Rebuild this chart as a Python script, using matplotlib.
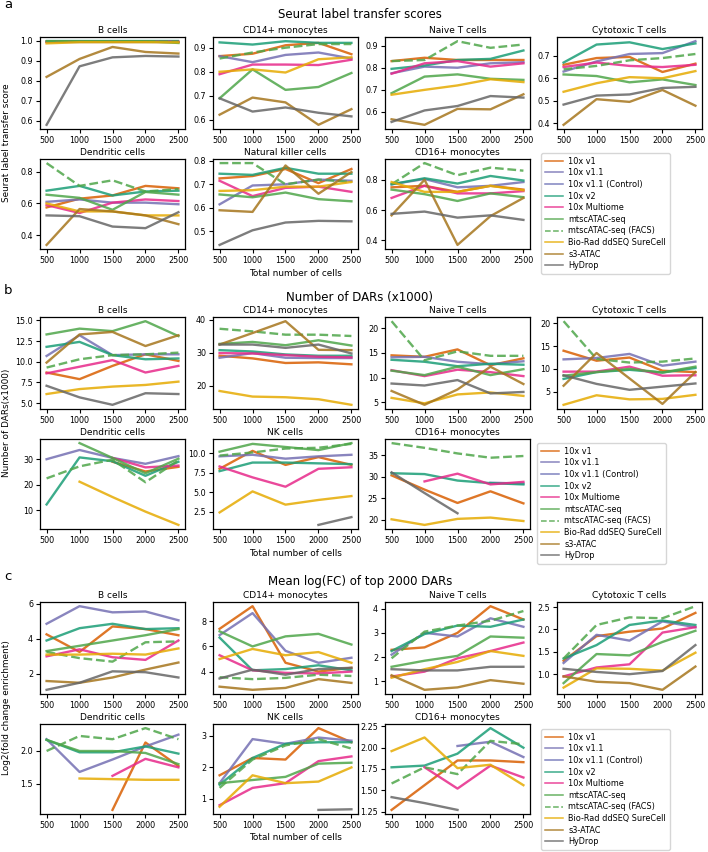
import numpy as np
import matplotlib.pyplot as plt

nan = np.nan
cells = [500, 1000, 1500, 2000, 2500]

methods = ["10x v1", "10x v1.1", "10x v1.1 (Control)", "10x v2", "10x Multiome",
           "mtscATAC-seq", "mtscATAC-seq (FACS)", "Bio-Rad ddSEQ SureCell",
           "s3-ATAC", "HyDrop"]
colors = ["#d95f02", "#7570b3", "#6a6fb5", "#1b9e77", "#e7298a",
          "#4fa64a", "#4fa64a", "#e6ab02", "#a6761d", "#666666"]
styles = ["-", "-", "-", "-", "-", "-", "--", "-", "-", "-"]

titles_a = ["B cells", "CD14+ monocytes", "Naive T cells", "Cytotoxic T cells",
            "Dendritic cells", "Natural killer cells", "CD16+ monocytes"]
titles_bc = ["B cells", "CD14+ monocytes", "Naive T cells", "Cytotoxic T cells",
             "Dendritic cells", "NK cells", "CD16+ monocytes"]

# ---- a: Seurat label transfer scores (rows follow `methods`) ----
seurat_bcell = [
    [0.995, 0.996, 0.996, 0.996, 0.995],
    [0.997, 0.997, 0.997, 0.997, 0.997],
    [nan] * 5,
    [0.998, 0.998, 0.998, 0.998, 0.998],
    [0.996, 0.997, 0.997, 0.997, 0.996],
    [0.999, 0.999, 0.999, 0.999, 0.990],
    [0.998, 0.998, 0.998, 0.998, 0.997],
    [0.988, 0.994, 0.994, 0.994, 0.993],
    [0.82, 0.91, 0.97, 0.945, 0.937],
    [0.58, 0.873, 0.918, 0.925, 0.922]]
seurat_cd14 = [
    [0.865, 0.875, 0.91, 0.92, 0.873],
    [0.865, 0.84, 0.87, 0.88, 0.855],
    [nan] * 5,
    [0.922, 0.913, 0.927, 0.92, 0.92],
    [0.79, 0.83, 0.83, 0.828, 0.85],
    [0.69, 0.81, 0.725, 0.737, 0.795],
    [0.855, 0.88, 0.9, 0.915, 0.915],
    [0.80, 0.81, 0.797, 0.852, 0.86],
    [0.622, 0.693, 0.673, 0.58, 0.645],
    [0.69, 0.635, 0.652, 0.63, 0.615]]
seurat_naive = [
    [0.83, 0.845, 0.835, 0.835, 0.835],
    [0.775, 0.805, 0.80, 0.82, 0.825],
    [nan] * 5,
    [0.795, 0.81, 0.835, 0.84, 0.878],
    [0.773, 0.82, 0.83, 0.805, 0.82],
    [0.685, 0.76, 0.77, 0.75, 0.745],
    [0.83, 0.835, 0.92, 0.89, 0.905],
    [0.678, 0.70, 0.72, 0.748, 0.735],
    [0.567, 0.542, 0.614, 0.612, 0.68],
    [0.555, 0.607, 0.627, 0.672, 0.665]]
seurat_cyto = [
    [0.66, 0.69, 0.695, 0.628, 0.665],
    [0.63, 0.675, 0.708, 0.712, 0.765],
    [nan] * 5,
    [0.67, 0.75, 0.76, 0.73, 0.755],
    [0.65, 0.67, 0.655, 0.65, 0.66],
    [0.617, 0.61, 0.582, 0.595, 0.57],
    [0.64, 0.655, 0.68, 0.69, 0.708],
    [0.54, 0.578, 0.605, 0.60, 0.632],
    [0.393, 0.507, 0.495, 0.548, 0.478],
    [0.483, 0.523, 0.528, 0.557, 0.562]]
seurat_dc = [
    [0.575, 0.63, 0.65, 0.71, 0.695],
    [0.61, 0.625, 0.605, 0.605, 0.595],
    [nan] * 5,
    [0.68, 0.71, 0.65, 0.675, 0.68],
    [0.59, 0.54, 0.605, 0.625, 0.615],
    [0.655, 0.635, 0.56, 0.672, 0.655],
    [0.853, 0.71, 0.745, 0.675, 0.69],
    [0.60, 0.55, 0.55, 0.525, 0.525],
    [0.34, 0.565, 0.55, 0.525, 0.47],
    [0.525, 0.52, 0.455, 0.445, 0.545]]
seurat_nk = [
    [0.725, 0.735, 0.765, 0.705, 0.765],
    [0.615, 0.695, 0.70, 0.72, 0.715],
    [nan] * 5,
    [0.745, 0.74, 0.77, 0.745, 0.745],
    [0.715, 0.65, 0.685, 0.69, 0.668],
    [0.657, 0.645, 0.665, 0.637, 0.628],
    [0.79, 0.79, 0.70, 0.72, 0.71],
    [0.672, 0.675, 0.69, 0.69, 0.71],
    [0.59, 0.583, 0.78, 0.66, 0.752],
    [0.443, 0.505, 0.538, 0.545, 0.543]]
seurat_cd16 = [
    [0.75, 0.76, 0.72, 0.76, 0.735],
    [0.77, 0.805, 0.75, 0.76, 0.785],
    [nan] * 5,
    [0.77, 0.81, 0.775, 0.825, 0.795],
    [0.68, 0.76, 0.71, 0.71, 0.725],
    [0.735, 0.705, 0.66, 0.71, 0.685],
    [0.77, 0.91, 0.83, 0.88, 0.86],
    [0.785, 0.72, 0.72, 0.76, 0.73],
    [0.565, 0.80, 0.37, 0.56, 0.68],
    [0.575, 0.59, 0.55, 0.565, 0.535]]

# ---- b: number of DARs (x1000) ----
dars_bcell = [
    [8.7, 7.9, 9.5, 10.9, 10.1],
    [10.7, 13.2, 10.8, 10.9, 10.9],
    [nan] * 5,
    [11.8, 12.4, 10.8, 10.3, 10.4],
    [8.6, 9.4, 10.2, 8.7, 9.5],
    [13.3, 14.0, 13.7, 14.9, 13.1],
    [9.3, 10.3, 10.8, 10.9, 11.1],
    [6.1, 6.7, 7.0, 7.2, 7.6],
    [9.9, 13.3, 13.6, 11.9, 13.2],
    [7.1, 5.7, 4.8, 6.2, 6.1]]
dars_cd14 = [
    [29.1, 28.3, 26.9, 27.1, 26.5],
    [28.5, 29.9, 28.5, 28.4, 28.4],
    [nan] * 5,
    [30.8, 30.4, 29.5, 29.1, 29.1],
    [29.9, 29.8, 29.3, 28.8, 28.6],
    [32.7, 33.3, 32.3, 33.8, 32.2],
    [37.3, 36.5, 35.5, 35.5, 35.1],
    [18.4, 16.7, 16.5, 15.9, 14.2],
    [32.5, 36.0, 39.6, 30.9, 30.8],
    [32.5, 32.5, 31.5, 32.5, 29.8]]
dars_naive = [
    [14.5, 14.2, 15.7, 12.5, 13.9],
    [14.1, 14.2, 13.2, 12.7, 13.3],
    [nan] * 5,
    [13.6, 13.2, 12.3, 12.8, 12.6],
    [11.5, 10.3, 11.6, 11.1, 10.3],
    [11.4, 10.5, 12.2, 10.5, 11.7],
    [21.4, 13.5, 15.3, 14.4, 14.4],
    [5.9, 4.8, 6.6, 7.0, 6.3],
    [7.3, 4.5, 7.6, 12.2, 8.7],
    [8.8, 8.4, 9.5, 6.8, 7.1]]
dars_cyto = [
    [14.0, 11.8, 12.5, 9.6, 9.3],
    [12.1, 12.4, 13.3, 10.7, 11.6],
    [nan] * 5,
    [7.8, 9.3, 9.8, 9.2, 10.2],
    [9.4, 9.4, 10.5, 8.5, 8.6],
    [8.5, 9.3, 10.0, 9.2, 10.5],
    [20.5, 12.2, 11.4, 11.6, 12.3],
    [2.1, 4.2, 3.3, 3.4, 4.3],
    [6.3, 13.5, 7.9, 2.3, 9.3],
    [8.6, 6.7, 5.4, 6.1, 6.8]]
dars_dc = [
    [nan, nan, 29.0, 25.2, 27.0],
    [30.0, 33.6, 30.5, 28.2, 31.2],
    [nan] * 5,
    [12.3, 30.7, 29.2, 23.5, 29.0],
    [nan, nan, 30.5, 26.8, 27.5],
    [nan, 36.3, 30.5, 24.5, 30.2],
    [22.5, 27.2, 29.8, 21.0, 29.5],
    [nan, 21.2, 15.2, 9.5, 4.3],
    [nan] * 5,
    [nan] * 5]
dars_nk = [
    [8.0, 10.3, 8.5, 9.5, 8.5],
    [9.6, 9.8, 9.3, 9.6, 9.8],
    [nan] * 5,
    [7.7, 8.8, 8.8, 8.7, 8.6],
    [8.3, 6.9, 5.7, 8.0, 8.2],
    [10.2, 11.2, 10.8, 10.4, 11.3],
    [9.7, 10.1, 10.6, 10.7, 11.2],
    [2.4, 5.1, 3.4, 4.0, 4.5],
    [nan] * 5,
    [nan, nan, nan, 0.8, 1.8]]
dars_cd16 = [
    [30.3, 27.0, 23.9, 26.6, 23.8],
    [nan, nan, nan, 28.6, 28.4],
    [nan] * 5,
    [30.8, 30.6, 29.1, 28.5, 28.2],
    [nan, 28.9, 30.7, 28.2, 28.8],
    [nan] * 5,
    [37.8, 36.7, 35.4, 34.4, 34.8],
    [20.1, 18.8, 20.2, 20.5, 19.7],
    [nan] * 5,
    [31.0, 26.2, 21.5, nan, nan]]

# ---- c: mean log2(FC) of top 2000 DARs ----
fc_bcell = [
    [4.25, 3.25, 4.7, 4.55, 4.2],
    [4.85, 5.85, 5.5, 5.55, 5.05],
    [nan] * 5,
    [3.9, 4.6, 4.85, 4.55, 4.6],
    [3.0, 3.4, 2.95, 2.8, 3.9],
    [3.3, 3.6, 3.9, 4.2, 4.55],
    [3.25, 2.9, 2.7, 3.8, 3.85],
    [3.1, 3.1, 3.15, 3.1, 3.45],
    [1.6, 1.5, 1.8, 2.25, 2.65],
    [1.1, 1.5, 2.15, 2.1, 1.8]]
fc_cd14 = [
    [7.4, 9.2, 4.7, 4.0, 4.3],
    [6.9, 8.65, 5.65, 4.7, 5.1],
    [nan] * 5,
    [6.7, 4.1, 4.2, 4.5, 4.1],
    [5.3, 4.1, 3.9, 3.85, 4.0],
    [7.2, 6.0, 6.8, 7.0, 6.15],
    [3.55, 3.4, 3.5, 3.75, 3.65],
    [5.0, 5.8, 5.3, 5.55, 4.7],
    [2.8, 2.55, 2.7, 3.4, 3.1],
    [3.45, 4.15, 3.75, 4.2, 4.3]]
fc_naive = [
    [2.3, 2.4, 3.0, 4.1, 3.55],
    [2.1, 3.0, 2.85, 3.6, 3.25],
    [nan] * 5,
    [2.25, 2.95, 3.3, 3.25, 3.55],
    [1.2, 1.4, 1.95, 2.25, 2.6],
    [1.6, 1.85, 2.05, 2.85, 2.8],
    [1.95, 3.05, 3.3, 3.5, 3.9],
    [1.15, 1.5, 1.8, 2.25, 2.05],
    [1.25, 0.65, 0.75, 1.05, 0.9],
    [1.5, 1.45, 1.45, 1.6, 1.6]]
fc_cyto = [
    [1.3, 1.85, 1.95, 2.02, 2.37],
    [1.25, 1.88, 1.75, 2.18, 2.05],
    [nan] * 5,
    [1.35, 1.65, 2.1, 2.2, 2.1],
    [0.95, 1.15, 1.22, 1.93, 2.05],
    [0.8, 1.45, 1.42, 1.72, 1.97],
    [1.35, 2.1, 2.27, 2.25, 2.52],
    [0.7, 1.13, 1.12, 1.08, 1.48],
    [0.95, 0.83, 0.8, 0.65, 1.17],
    [1.12, 1.05, 1.0, 1.07, 1.65]]
fc_dc = [
    [nan, nan, 1.1, 2.13, 1.77],
    [2.18, 1.68, 1.87, 2.07, 2.25],
    [nan] * 5,
    [2.17, 1.98, 1.98, 2.07, 1.96],
    [nan, nan, 1.62, 1.88, 1.75],
    [2.17, 2.0, 2.0, 1.97, 1.8],
    [2.0, 2.23, 2.18, 2.35, 2.18],
    [nan, 1.58, 1.57, 1.56, 1.56],
    [nan] * 5,
    [nan] * 5]
fc_nk = [
    [1.75, 2.3, 2.25, 3.25, 2.8],
    [1.5, 2.9, 2.75, 2.95, 2.85],
    [nan] * 5,
    [1.45, 2.3, 2.75, 2.8, 2.8],
    [0.8, 1.35, 1.5, 2.2, 2.35],
    [1.5, 1.6, 1.7, 2.12, 2.15],
    [1.35, 2.25, 2.7, 2.9, 2.6],
    [0.75, 1.75, 1.5, 1.55, 2.0],
    [nan] * 5,
    [nan, nan, nan, 0.65, 0.67]]
fc_cd16 = [
    [1.27, 1.56, 1.85, 1.85, 1.83],
    [nan, nan, 2.02, 2.07, 1.89],
    [nan] * 5,
    [1.77, 1.79, 1.93, 2.23, 2.0],
    [nan, 1.77, 1.52, 1.79, 1.65],
    [nan] * 5,
    [1.58, 1.77, 1.69, 2.08, 2.04],
    [1.96, 2.12, 1.76, 1.8, 1.56],
    [nan] * 5,
    [1.42, 1.35, 1.27, nan, nan]]

yticks_a = [[0.6, 0.7, 0.8, 0.9, 1.0], [0.6, 0.7, 0.8, 0.9], [0.6, 0.7, 0.8, 0.9],
            [0.4, 0.5, 0.6, 0.7], [0.4, 0.6, 0.8], [0.5, 0.6, 0.7, 0.8], [0.4, 0.6, 0.8]]
yticks_b = [[5.0, 7.5, 10.0, 12.5, 15.0], [20, 30, 40], [5, 10, 15, 20], [5, 10, 15, 20],
            [10, 20, 30], [2.5, 5.0, 7.5, 10.0], [20, 25, 30, 35]]
yticks_c = [[2, 4, 6], [4, 6, 8], [1, 2, 3, 4], [1.0, 1.5, 2.0, 2.5], [1.5, 2.0],
            [1, 2, 3], [1.25, 1.50, 1.75, 2.00, 2.25]]

panels = [
    ("a", "Seurat label transfer scores", "Seurat label transfer score", titles_a, yticks_a,
     [seurat_bcell, seurat_cd14, seurat_naive, seurat_cyto, seurat_dc, seurat_nk, seurat_cd16]),
    ("b", "Number of DARs (x1000)", "Number of DARs(x1000)", titles_bc, yticks_b,
     [dars_bcell, dars_cd14, dars_naive, dars_cyto, dars_dc, dars_nk, dars_cd16]),
    ("c", "Mean log(FC) of top 2000 DARs", "Log2(fold change enrichment)", titles_bc, yticks_c,
     [fc_bcell, fc_cd14, fc_naive, fc_cyto, fc_dc, fc_nk, fc_cd16]),
]

# layout in pixels (from top-left), per panel
W, H = 708, 852
row_offsets = [0, 280, 565]
title_y = [14, 297, 582]
letter_y = [5, 290, 576]
legend_xy = [(541, 153), (537, 443), (541, 729)]
col_left = [40, 213, 385, 557]
ax_w = 145

fig = plt.figure(figsize=(W / 100, H / 100), dpi=100)
plt.rcParams['font.family'] = ['DejaVu Sans']


def fr(x0, y0, x1, y1):
    return [x0 / W, 1 - y1 / H, (x1 - x0) / W, (y1 - y0) / H]


for p, (letter, title, ylab, sub_titles, yticks, data) in enumerate(panels):
    off = row_offsets[p]
    rows = [(37 + off, 129 + off), (159 + off, 249 + off)]
    handles = []
    for k in range(7):
        r, c = divmod(k, 4)
        y0, y1 = rows[r]
        x0 = col_left[c]
        ax = fig.add_axes(fr(x0, y0, x0 + ax_w, y1))
        for m in range(len(methods)):
            ln, = ax.plot(cells, data[k][m], color=colors[m], ls=styles[m], lw=1.7,
                          alpha=0.85, label=methods[m])
            if k == 0:
                handles.append(ln)
        ax.set_xticks(cells)
        ax.set_yticks(yticks[k])
        ax.set_title(sub_titles[k], fontsize=6.5, pad=3)
        ax.tick_params(labelsize=5.8, length=3, width=0.8, pad=2)
        for s in ax.spines.values():
            s.set_linewidth(0.9)
    fig.text(4 / W, 1 - letter_y[p] / H, letter, fontsize=9.5, va="center", ha="left")
    fig.text(360 / W, 1 - title_y[p] / H, title, fontsize=8.5, va="center", ha="center")
    fig.text(295 / W, 1 - (273 + off) / H, "Total number of cells", fontsize=6.4,
             va="center", ha="center")
    fig.text(7 / W, 1 - (143 + off) / H, ylab, fontsize=6.4, rotation=90,
             va="center", ha="center")
    lx, ly = legend_xy[p]
    leg = fig.legend(handles=handles, loc="upper left",
                     bbox_to_anchor=(lx / W, 1 - ly / H), borderaxespad=0,
                     fontsize=5.9, handlelength=2.2, handletextpad=0.7,
                     labelspacing=0.32, borderpad=0.45, frameon=True)
    for lh in leg.get_lines():
        lh.set_linewidth(1.1)

fig.savefig("out.png", dpi=100)
